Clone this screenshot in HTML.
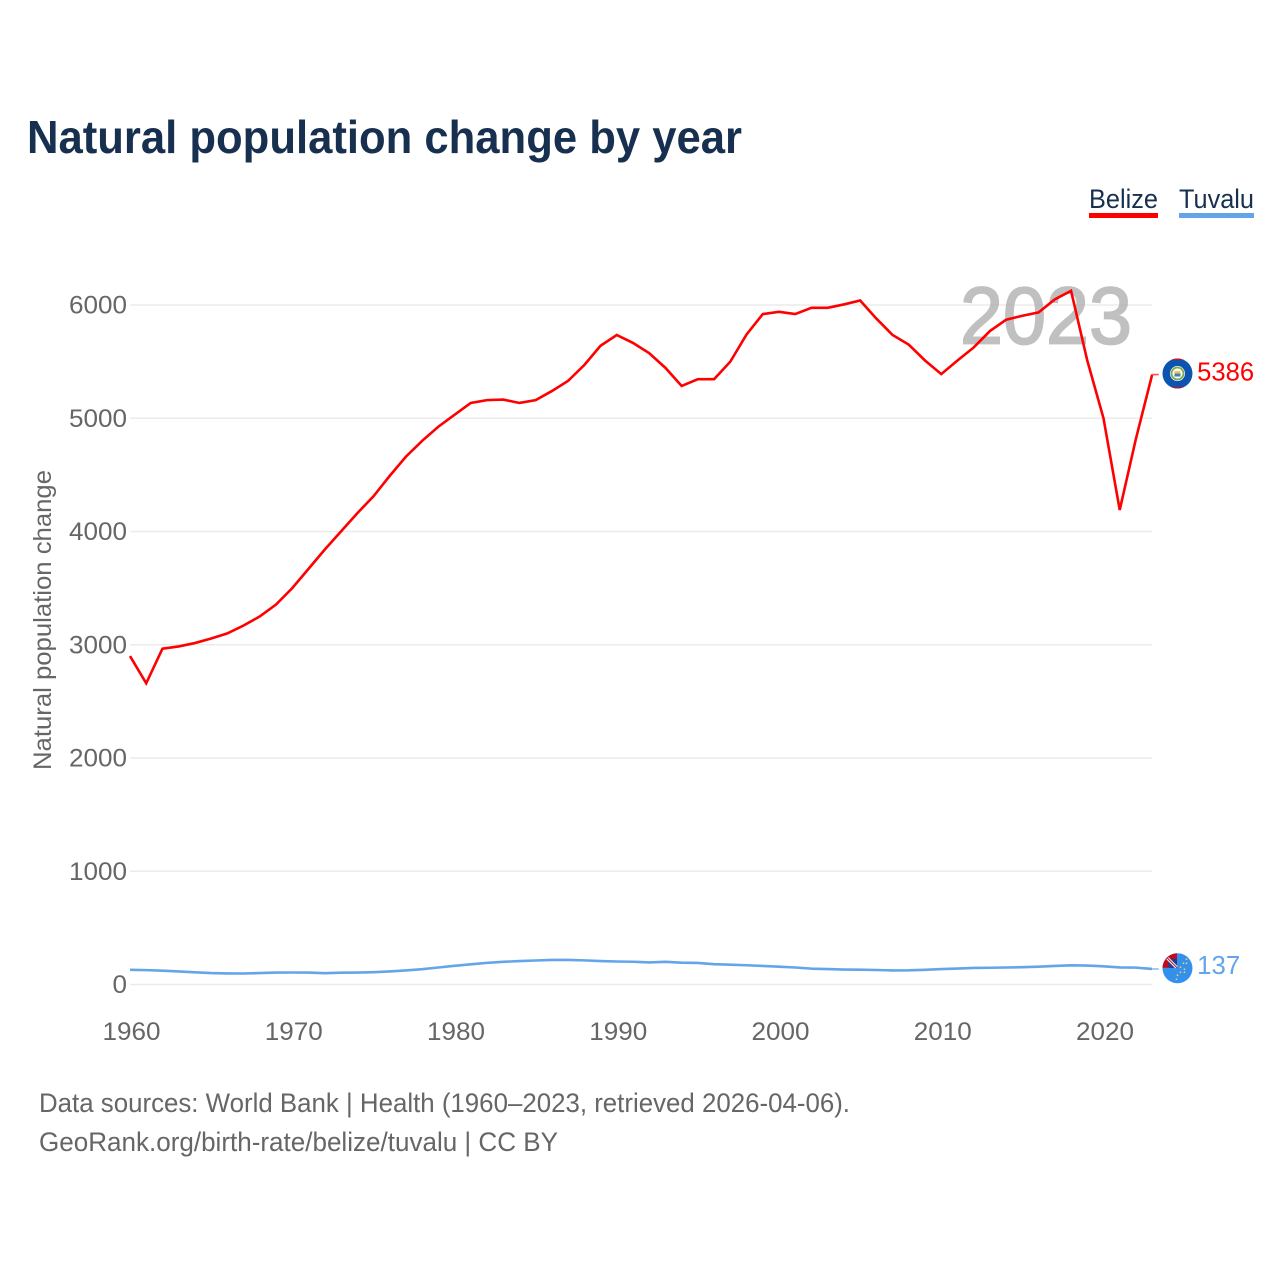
<!DOCTYPE html>
<html lang="en">
<head>
<meta charset="utf-8">
<title>Natural population change by year</title>
<style>
html,body{margin:0;padding:0;background:#fff;width:1280px;height:1280px;overflow:hidden}
svg{display:block}
text{font-family:"Liberation Sans",sans-serif}
</style>
</head>
<body>
<svg id="chart" xmlns="http://www.w3.org/2000/svg" width="1280" height="1280" viewBox="0 0 1280 1280">
  <defs>
    <clipPath id="belize-clip"><circle cx="0" cy="0" r="15"/></clipPath>
    <clipPath id="tuvalu-clip"><circle cx="0" cy="0" r="15"/></clipPath>
  </defs>
  <text x="27" y="153" font-size="46" font-weight="700" fill="#18304f" textLength="715" lengthAdjust="spacingAndGlyphs">Natural population change by year</text>

  <g>
    <text x="1089" y="208" font-size="27" fill="#18304f" textLength="69" lengthAdjust="spacingAndGlyphs">Belize</text>
    <rect x="1089" y="213" width="69" height="5" fill="#ff0000"/>
  </g>
  <g>
    <text x="1179" y="208" font-size="27" fill="#18304f" textLength="75" lengthAdjust="spacingAndGlyphs">Tuvalu</text>
    <rect x="1179" y="213" width="75" height="5" fill="#64a5ea"/>
  </g>

  <g id="grid"></g>
  <g opacity="0.72">
    <text x="960" y="343.5" font-size="81" font-weight="400" fill="#a8a8a8" stroke="#a8a8a8" stroke-width="1.8" textLength="172" lengthAdjust="spacingAndGlyphs">2023</text>
  </g>
  <g id="yticks"></g>
  <g id="xticks"></g>
  <text transform="translate(51,770) rotate(-90)" x="0" y="0" font-size="25" fill="#666666" textLength="300" lengthAdjust="spacingAndGlyphs">Natural population change</text>
  <g id="series"></g>
  <g id="ends"></g>

  <text x="39" y="1112" font-size="27" fill="#666666" textLength="811" lengthAdjust="spacingAndGlyphs">Data sources: World Bank | Health (1960–2023, retrieved 2026-04-06).</text>
  <text x="39" y="1151" font-size="27" fill="#666666" textLength="519" lengthAdjust="spacingAndGlyphs">GeoRank.org/birth-rate/belize/tuvalu | CC BY</text>
</svg>
<script>
const startYear = 1960;
const belizeValues = [2900,2660,2965,2985,3015,3055,3100,3170,3250,3355,3500,3670,3840,4000,4160,4310,4490,4660,4800,4925,5030,5135,5160,5165,5135,5160,5240,5330,5470,5640,5735,5665,5575,5445,5285,5345,5345,5500,5740,5920,5940,5920,5975,5975,6005,6040,5880,5735,5650,5510,5390,5510,5625,5770,5870,5905,5935,6050,6125,5510,5000,4190,4820,5386];
const tuvaluValues = [130,127,122,115,108,101,98,97,101,105,106,105,100,104,105,109,115,124,135,150,165,178,191,200,207,212,217,217,213,207,203,201,195,200,193,190,179,175,170,164,157,150,140,136,132,131,128,124,125,130,136,141,146,148,150,153,157,164,169,167,161,151,149,137];
const yTickValues = [0,1000,2000,3000,4000,5000,6000];
const xTickValues = [1960,1970,1980,1990,2000,2010,2020];

const NS = 'http://www.w3.org/2000/svg';
function xScale(year){ return 130 + (year - 1960) * 16.225; }
function yScale(v){ return 984.5 - v * 0.11325; }
function mk(tag, attrs, parent){
  const el = document.createElementNS(NS, tag);
  for (const k in attrs) el.setAttribute(k, attrs[k]);
  parent.appendChild(el);
  return el;
}

const grid = document.getElementById('grid');
const yticks = document.getElementById('yticks');
yTickValues.forEach(function(v){
  const line = mk('line', {x1:130, x2:1152, y1:yScale(v), y2:yScale(v), stroke:'#ebebeb', 'stroke-width':1.5}, grid);
  
  
  const w = String(v).length * 14.5;
  const t = mk('text', {x:127 - w, y:yScale(v) + 8.5, 'font-size':25, fill:'#666666', textLength:w, lengthAdjust:'spacingAndGlyphs'}, yticks);
  
  
  t.textContent = String(v);
});

const xticks = document.getElementById('xticks');
xTickValues.forEach(function(y){
  const t = mk('text', {x:xScale(y) + 1.5 - 29, y:1040, 'font-size':25, fill:'#666666', textLength:58, lengthAdjust:'spacingAndGlyphs'}, xticks);
  
  
  t.textContent = String(y);
});

function linePath(values){
  return values.map(function(v, i){
    return (i ? 'L' : 'M') + xScale(startYear + i).toFixed(2) + ' ' + yScale(v).toFixed(2);
  }).join(' ');
}
const series = document.getElementById('series');
const belizeLine = mk('path', {d:linePath(belizeValues), fill:'none', stroke:'#ff0000', 'stroke-width':2.6, 'stroke-linejoin':'miter'}, series);


const tuvaluLine = mk('path', {d:linePath(tuvaluValues), fill:'none', stroke:'#64a5ea', 'stroke-width':2.6, 'stroke-linejoin':'round'}, series);



const ends = document.getElementById('ends');
const lastYearX = xScale(startYear + belizeValues.length - 1);
const belizeLast = belizeValues[belizeValues.length - 1];
const tuvaluLast = tuvaluValues[tuvaluValues.length - 1];

const belizeConn = mk('line', {x1:lastYearX, x2:lastYearX + 6.5, y1:yScale(belizeLast), y2:yScale(belizeLast), stroke:'#ff5050', 'stroke-width':1.6}, ends);


const tuvaluConn = mk('line', {x1:lastYearX, x2:lastYearX + 6.5, y1:yScale(tuvaluLast), y2:yScale(tuvaluLast), stroke:'#8fbdf0', 'stroke-width':1.6}, ends);



const flagB = mk('g', {transform:'translate(' + (lastYearX + 25.3) + ',' + (yScale(belizeLast) - 1) + ')', 'clip-path':'url(#belize-clip)'}, ends);


mk('rect', {x:-16, y:-16, width:32, height:32, fill:'#0b54b0'}, flagB);
mk('rect', {x:-16, y:-16, width:32, height:2.5, fill:'#c8102e'}, flagB);
mk('rect', {x:-16, y:13.5, width:32, height:2.5, fill:'#c8102e'}, flagB);
mk('circle', {cx:0, cy:0, r:7.5, fill:'#ffffff'}, flagB);
mk('circle', {cx:0, cy:0, r:6, fill:'none', stroke:'#7fa84d', 'stroke-width':1.8}, flagB);
mk('rect', {x:-3, y:-2.5, width:6, height:2.5, fill:'#e9c84a'}, flagB);
mk('rect', {x:-3, y:0, width:6, height:3, fill:'#3d7fc4'}, flagB);

const flagT = mk('g', {transform:'translate(' + (lastYearX + 25.3) + ',' + (yScale(tuvaluLast) - 0.7) + ')', 'clip-path':'url(#tuvalu-clip)'}, ends);


mk('rect', {x:-16, y:-16, width:32, height:32, fill:'#3390ee'}, flagT);
mk('rect', {x:-16, y:-16, width:15.5, height:15.5, fill:'#c00a1e'}, flagT);
mk('rect', {x:-9, y:-9.5, width:8.5, height:9, fill:'#1d3f8f'}, flagT);
mk('path', {d:'M-10 -10 L-1 -1', stroke:'#ffffff', 'stroke-width':3, fill:'none'}, flagT);
mk('path', {d:'M-10 -10 L-1 -1', stroke:'#c00a1e', 'stroke-width':1, fill:'none'}, flagT);
[[9,-9],[6,-5],[9,-5],[3,-1],[7,1],[3,4],[7,4],[0,7],[-1,11]].forEach(function(p){
  mk('circle', {cx:p[0], cy:p[1], r:0.9, fill:'#f2d04a'}, flagT);
});

const labelB = mk('text', {x:lastYearX + 45, y:yScale(belizeLast) + 6, 'font-size':26, fill:'#ff0000', textLength:57, lengthAdjust:'spacingAndGlyphs'}, ends);


labelB.textContent = String(belizeLast);
const labelT = mk('text', {x:lastYearX + 45, y:yScale(tuvaluLast) + 5, 'font-size':26, fill:'#64a5ea', textLength:43, lengthAdjust:'spacingAndGlyphs'}, ends);


labelT.textContent = String(tuvaluLast);
</script>
</body>
</html>
